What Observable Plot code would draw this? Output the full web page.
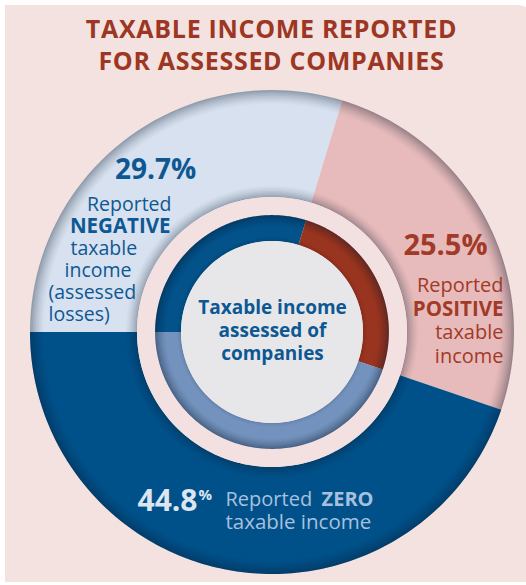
<!DOCTYPE html>
<html>
<head>
<meta charset="utf-8">
<script src="https://cdn.jsdelivr.net/npm/d3@7"></script>
<script src="https://cdn.jsdelivr.net/npm/@observablehq/plot@0.6"></script>
<style>
  html, body { margin: 0; padding: 0; background: #ffffff; overflow: hidden; width: 526px; height: 585px; }
  #frame { position: absolute; left: 5px; top: 5px; width: 530px; height: 577px; background: #f4e2e1; border-top-right-radius: 18px; }
  #title { position: absolute; left: 0; top: 12px; width: 543px; text-align: center; font-family: "Open Sans", sans-serif; font-weight: 700; font-size: 25px; line-height: 32px; color: #9b3723; letter-spacing: 0.7px; }
  #chart { position: absolute; left: 0; top: 80px; }
</style>
</head>
<body>
<div id="frame"></div>
<div id="title">TAXABLE INCOME REPORTED<br>FOR ASSESSED COMPANIES</div>
<div id="chart"></div>
<script>
// ---- data ----
const categories = ["negative", "positive", "zero"];
const shares = [29.7, 25.5, 44.8];
const shareLabels = ["29.7%", "25.5%", "44.8"];
const centerTitle = ["Taxable income", "assessed of", "companies"];

// ---- styles ----
const outerColors = {negative: "#d7e1ef", positive: "#e7bbbb", zero: "#00518a"};
const innerColors = {negative: "#03528a", positive: "#98341f", zero: "#7393be"};
const BLUE = "#0d5893", RED = "#a13a27", LIGHT = "#dce5f1", MID = "#a8c0de";

// geometry (unit radius)
const R_OUT = 1, R_HALO_OUT = 0.558, R_HALO_IN = 0.483, R_IN = 0.376;
const W = 526, H = 505, CXP = 272, CYP = 332, RP = 242, TOP = 80;

const pie = d3.pie().sort(null).startAngle(-Math.PI / 2).endAngle(1.5 * Math.PI);
const arcs = pie(shares).map((a, i) => ({startAngle: a.startAngle, endAngle: a.endAngle, cat: categories[i]}));

function ring(arcList, r0, r1) {
  const pts = [];
  for (const a of arcList) {
    const n = 160;
    for (let k = 0; k <= n; k++) {
      const t = a.startAngle + (a.endAngle - a.startAngle) * k / n;
      pts.push({cat: a.cat, x1: r0 * Math.sin(t), y1: r0 * Math.cos(t), x2: r1 * Math.sin(t), y2: r1 * Math.cos(t)});
    }
  }
  return pts;
}
const full = [{cat: "all", startAngle: 0, endAngle: 2 * Math.PI}];
const ringMark = (pts, fill, extra = {}) =>
  Plot.area(pts, {x1: "x1", y1: "y1", x2: "x2", y2: "y2", z: "cat", fill, ...extra});

// soft shading bands (inner-shadow look) built from thin concentric rings
function shadeBands(rEdge, width, dir, maxOp, steps = 10) {
  const marks = [];
  for (let s = 0; s < steps; s++) {
    const a = rEdge + dir * width * s / steps, b = rEdge + dir * width * (s + 1) / steps;
    const op = maxOp * Math.pow(1 - s / steps, 1.6);
    marks.push(ringMark(ring(full, Math.min(a, b), Math.max(a, b)), "#0b1a2e", {fillOpacity: op}));
  }
  return marks;
}

// label layout (page pixels -> unit coords); p = baseline of the last line
const U = (px, py) => ({x: (px - CXP) / RP, y: (CYP - py) / RP});
const labels = [
  {t: shareLabels[0], p: [155, 178], s: 28, w: 700, c: BLUE, a: "middle"},
  {t: "Reported", p: [171, 210], s: 19.5, w: 400, c: BLUE, a: "end"},
  {t: "NEGATIVE", p: [170, 232], s: 20.5, w: 700, c: BLUE, a: "end"},
  {t: "taxable", p: [70, 254], s: 19.5, w: 400, c: BLUE, a: "start"},
  {t: "income", p: [64, 276], s: 19.5, w: 400, c: BLUE, a: "start"},
  {t: "(assessed\nlosses)", p: [48, 320], s: 19.5, w: 400, c: BLUE, a: "start", lh: 22 / 19.5},
  {t: shareLabels[1], p: [445, 254], s: 29, w: 700, c: RED, a: "middle"},
  {t: "Reported", p: [503, 291], s: 20, w: 400, c: RED, a: "end"},
  {t: "POSITIVE", p: [503, 315], s: 20.5, w: 700, c: RED, a: "end"},
  {t: "taxable\nincome", p: [503, 362], s: 20, w: 400, c: RED, a: "end", lh: 24 / 20},
  {t: centerTitle.join("\n"), p: [272, 359], s: 19, w: 700, c: BLUE, a: "middle", lh: 23 / 19},
  {t: shareLabels[2], p: [197, 510], s: 30, w: 700, c: LIGHT, a: "end"},
  {t: "%", p: [198, 499], s: 15, w: 700, c: LIGHT, a: "start"},
  {t: "Reported", p: [225, 505], s: 20, w: 400, c: MID, a: "start"},
  {t: "ZERO", p: [373, 505], s: 20, w: 700, c: MID, a: "end"},
  {t: "taxable income", p: [225, 528], s: 20.5, w: 400, c: MID, a: "start"}
].map(d => ({...d, ...U(d.p[0], d.p[1])}));

const textMarks = labels.map(d => Plot.text([d], {
  x: "x", y: "y", text: "t", fill: d.c, fontSize: d.s, fontWeight: d.w,
  textAnchor: d.a, lineAnchor: "bottom", lineHeight: d.lh ?? 1, fontFamily: "Open Sans"
}));

const chart = Plot.plot({
  width: W, height: H,
  marginLeft: CXP - RP, marginRight: W - CXP - RP,
  marginTop: (CYP - TOP) - RP, marginBottom: H - (CYP - TOP) - RP,
  x: {domain: [-1, 1], axis: null},
  y: {domain: [-1, 1], axis: null},
  color: {type: "identity"},
  style: {background: "transparent", fontFamily: "Open Sans"},
  marks: [
    ringMark(ring(arcs, R_HALO_OUT, R_OUT), d => outerColors[d.cat]),
    ...shadeBands(R_OUT, 0.06, -1, 0.35),
    ...shadeBands(R_HALO_OUT, 0.05, 1, 0.3),
    ringMark(ring(full, R_HALO_IN, R_HALO_OUT), "#f2e1e0"),
    ringMark(ring(arcs, R_IN, R_HALO_IN), d => innerColors[d.cat]),
    ...shadeBands(R_HALO_IN, 0.045, -1, 0.4),
    ...shadeBands(R_IN, 0.02, 1, 0.12),
    ringMark(ring(full, 0, R_IN), "#e7e7ea"),
    ...textMarks
  ]
});

document.getElementById("chart").appendChild(chart);
</script>
</body>
</html>
